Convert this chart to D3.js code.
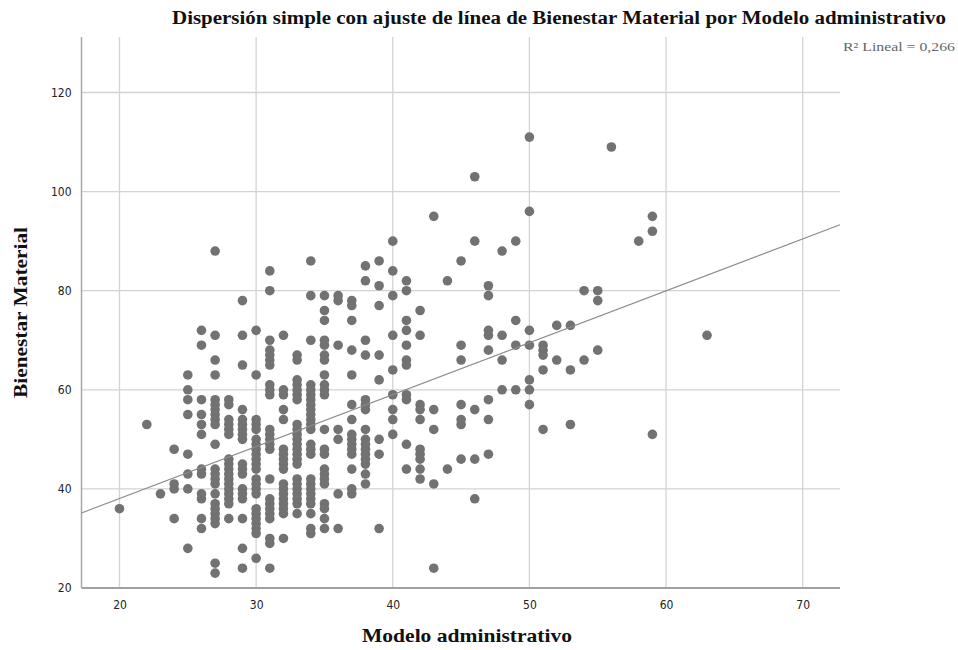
<!DOCTYPE html>
<html lang="es">
<head>
<meta charset="utf-8">
<title>Bienestar Material por Modelo administrativo</title>
<script src="https://cdn.jsdelivr.net/npm/d3@7/dist/d3.min.js"></script>
<style>
  html, body { margin: 0; padding: 0; background: #ffffff; }
  svg { display: block; }
  .tick-label { font-family: "Liberation Sans Narrow", "DejaVu Sans Condensed", "Liberation Sans", sans-serif; font-size: 12px; fill: #222; }
  .titulo { font-family: "Liberation Serif", "DejaVu Serif", serif; font-weight: bold; fill: #111; }
</style>
</head>
<body>
<svg id="grafico" width="958" height="650"></svg>
<script>
// Modelo administrativo (eje X): valores enteros observados
const modeloX = [20, 22, 23, 24, 25, 26, 27, 28, 29, 30, 31, 32, 33, 34, 35, 36, 37, 38, 39, 40,
                 41, 42, 43, 44, 45, 46, 47, 48, 49, 50, 51, 52, 53, 54, 55, 56, 58, 59, 63];

// Bienestar Material (eje Y): puntuaciones registradas para cada valor de modeloX
const bienestarY = [
  [36],
  [53],
  [39],
  [48, 41, 40, 34],
  [63, 60, 58, 55, 47, 43, 40, 28],
  [72, 69, 58, 55, 53, 51, 44, 43, 39, 38, 34, 32],
  [88, 71, 66, 63, 58, 57, 56, 55, 54, 53, 49, 44, 43, 42, 41, 39, 37, 36, 35, 34, 33, 25, 23],
  [58, 57, 54, 53, 52, 51, 46, 45, 44, 43, 42, 41, 40, 39, 38, 37, 34],
  [78, 71, 65, 56, 54, 53, 52, 51, 50, 45, 44, 43, 40, 39, 38, 34, 28, 24],
  [72, 63, 54, 53, 52, 50, 49, 48, 47, 46, 45, 44, 42, 41, 40, 39, 36, 35, 34, 33, 32, 31, 26],
  [84, 80, 70, 68, 67, 66, 65, 61, 60, 59, 52, 51, 50, 49, 48, 42, 38, 37, 36, 35, 34, 30, 29, 24],
  [71, 60, 59, 56, 54, 48, 47, 46, 45, 44, 41, 40, 39, 38, 37, 36, 35, 30],
  [67, 66, 62, 61, 60, 59, 58, 53, 52, 51, 50, 49, 48, 47, 46, 45, 42, 41, 40, 39, 38, 37, 35],
  [86, 79, 70, 61, 60, 59, 58, 57, 56, 55, 54, 53, 52, 49, 48, 47, 42, 41, 40, 39, 38, 37, 35, 32, 31],
  [79, 76, 74, 70, 69, 67, 66, 63, 61, 60, 59, 52, 48, 47, 44, 43, 42, 41, 37, 36, 34, 32],
  [79, 78, 69, 52, 50, 39, 32],
  [78, 77, 74, 68, 63, 57, 54, 51, 50, 49, 48, 47, 44, 40, 39],
  [85, 82, 70, 67, 58, 57, 56, 52, 50, 49, 48, 47, 46, 45, 43, 41],
  [86, 81, 77, 67, 62, 50, 47, 32],
  [90, 84, 79, 71, 64, 59, 56, 54, 51],
  [82, 80, 74, 72, 69, 66, 65, 59, 58, 49, 44],
  [76, 71, 57, 56, 54, 48, 47, 46, 44, 42],
  [95, 56, 52, 41, 24],
  [82, 44],
  [86, 69, 66, 57, 54, 53, 46],
  [103, 90, 56, 46, 38],
  [81, 79, 72, 71, 68, 58, 54, 47],
  [88, 71, 66, 60],
  [90, 74, 69, 60],
  [111, 96, 72, 69, 62, 60, 57],
  [69, 68, 67, 64, 52],
  [73, 66],
  [73, 64, 53],
  [80, 66],
  [80, 78, 68],
  [109],
  [90],
  [95, 92, 51],
  [71]
];

// Ajuste lineal: [intercepto, pendiente]
const ajusteLineal = [17.1, 1.048];
const textoR2 = "R\u00B2 Lineal = 0,266";

// Marcas de los ejes
const ticksX = [20, 30, 40, 50, 60, 70];
const ticksY = [20, 40, 60, 80, 100, 120];

const tituloGrafico = "Dispersión simple con ajuste de línea de Bienestar Material por Modelo administrativo";
const tituloX = "Modelo administrativo";
const tituloY = "Bienestar Material";

// Tabla de puntos construida a partir de los arreglos
const puntos = [];
modeloX.forEach((x, i) => bienestarY[i].forEach(y => puntos.push({ x, y })));

const svg = d3.select("#grafico");
const area = { left: 81.5, right: 840, top: 37, bottom: 588 };

const x = d3.scaleLinear().domain([17.22, 72.73]).range([area.left, area.right]);
const y = d3.scaleLinear().domain([20, 131.2]).range([area.bottom, area.top]);

// Rejilla vertical
svg.append("g").selectAll("line").data(ticksX).join("line")
  .attr("x1", d => x(d)).attr("x2", d => x(d))
  .attr("y1", area.top).attr("y2", area.bottom)
  .attr("stroke", "#d3d3d3").attr("stroke-width", 1.3);

// Rejilla horizontal
svg.append("g").selectAll("line").data(ticksY.filter(d => d > 20)).join("line")
  .attr("x1", area.left).attr("x2", area.right)
  .attr("y1", d => y(d)).attr("y2", d => y(d))
  .attr("stroke", "#d3d3d3").attr("stroke-width", 1.3);

// Ejes
const ejeX = d3.axisBottom(x).tickValues(ticksX).tickSize(0).tickPadding(10).tickFormat(d3.format("d"));
const ejeY = d3.axisLeft(y).tickValues(ticksY).tickSize(0).tickPadding(10).tickFormat(d3.format("d"));

const gx = svg.append("g").attr("transform", `translate(0,${area.bottom})`).call(ejeX);
gx.select(".domain").remove();
gx.selectAll("text").attr("class", "tick-label").attr("dy", "0.9em");

const gy = svg.append("g").attr("transform", `translate(${area.left},0)`).call(ejeY);
gy.select(".domain").remove();
gy.selectAll("text").attr("class", "tick-label");

svg.append("line")
  .attr("x1", area.left).attr("x2", area.left)
  .attr("y1", area.top).attr("y2", area.bottom)
  .attr("stroke", "#a8a8a8").attr("stroke-width", 1.5);
svg.append("line")
  .attr("x1", area.left).attr("x2", area.right)
  .attr("y1", area.bottom).attr("y2", area.bottom)
  .attr("stroke", "#a0a0a0").attr("stroke-width", 2);

// Puntos
svg.append("g").selectAll("circle").data(puntos).join("circle")
  .attr("cx", d => x(d.x)).attr("cy", d => y(d.y))
  .attr("r", 4.8)
  .attr("fill", "#727272");

// Recta de ajuste
const [b0, b1] = ajusteLineal;
const dominioX = x.domain();
svg.append("line")
  .attr("x1", x(dominioX[0])).attr("y1", y(b0 + b1 * dominioX[0]))
  .attr("x2", x(dominioX[1])).attr("y2", y(b0 + b1 * dominioX[1]))
  .attr("stroke", "#8a8a8a").attr("stroke-width", 1.1);

// Títulos
svg.append("text").attr("class", "titulo")
  .attr("x", 172).attr("y", 24)
  .attr("textLength", 774).attr("lengthAdjust", "spacingAndGlyphs")
  .style("font-size", "18px").text(tituloGrafico);

svg.append("text").attr("class", "titulo")
  .attr("x", 362).attr("y", 642)
  .attr("textLength", 210).attr("lengthAdjust", "spacingAndGlyphs")
  .style("font-size", "19px").text(tituloX);

svg.append("text").attr("class", "titulo")
  .attr("transform", "translate(27,398) rotate(-90)")
  .attr("textLength", 171).attr("lengthAdjust", "spacingAndGlyphs")
  .style("font-size", "19px").text(tituloY);

svg.append("text")
  .attr("x", 843).attr("y", 51)
  .attr("textLength", 112).attr("lengthAdjust", "spacingAndGlyphs")
  .style("font-family", "'Liberation Serif', 'DejaVu Serif', serif")
  .style("font-size", "12px").style("fill", "#666")
  .text(textoR2);
</script>
</body>
</html>
